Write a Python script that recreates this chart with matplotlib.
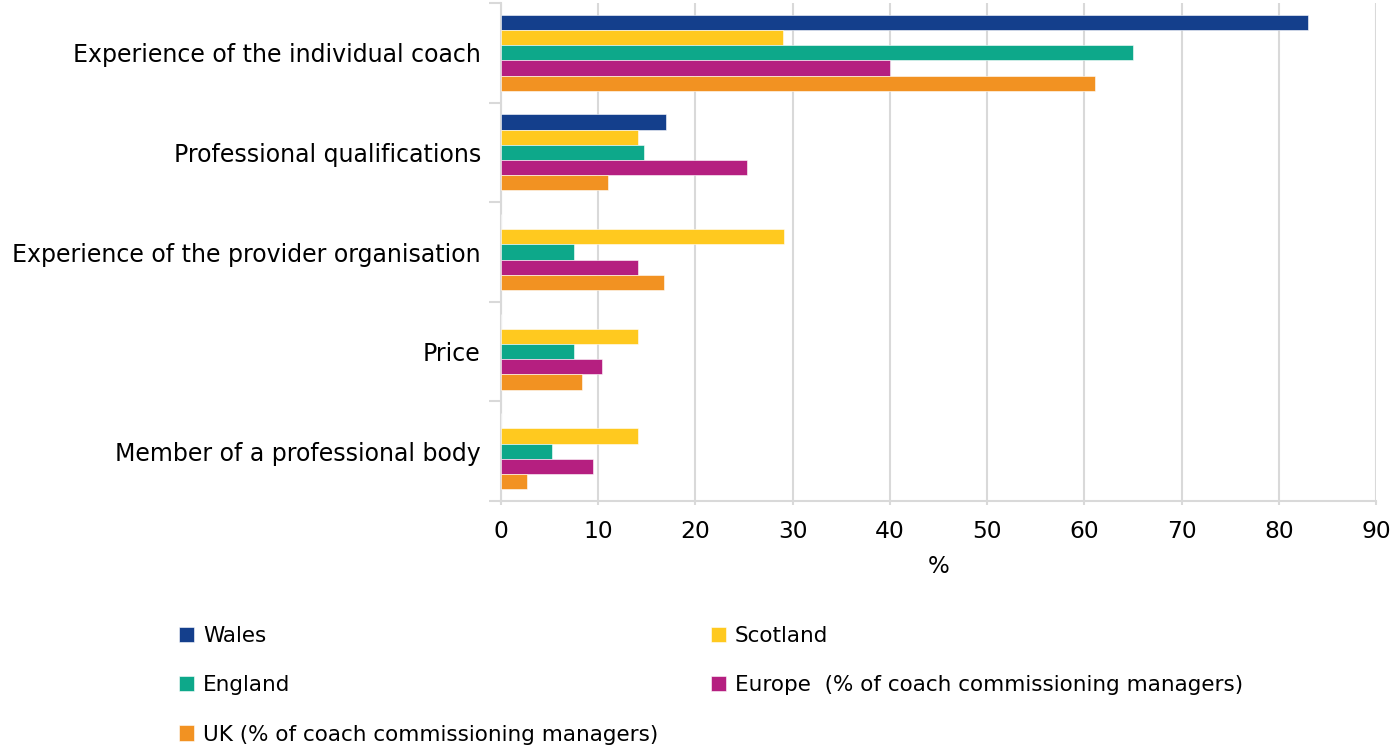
import matplotlib
matplotlib.use("Agg")
import matplotlib.pyplot as plt
import numpy as np

plt.rcParams['font.family'] = ['DejaVu Sans']

categories = ["Experience of the individual coach", "Professional qualifications",
              "Experience of the provider organisation", "Price",
              "Member of a professional body"]
series_names = ["Wales", "Scotland", "England",
                "Europe  (% of coach commissioning managers)",
                "UK (% of coach commissioning managers)"]
wales = [83.0, 17.0, 0.0, 0.0, 0.0]
scotland = [29.0, 14.1, 29.1, 14.1, 14.1]
england = [65.0, 14.7, 7.5, 7.5, 5.2]
europe = [40.0, 25.3, 14.1, 10.4, 9.5]
uk = [61.1, 11.0, 16.8, 8.3, 2.7]
colors = ["#143F8C", "#FFC91F", "#0DA88A", "#B51F80", "#F29222"]
xticks = [0, 10, 20, 30, 40, 50, 60, 70, 80, 90]

fig = plt.figure(figsize=(13.95, 7.49), dpi=100)
ax = fig.add_axes([501/1395, 1 - 501/749, 875/1395, 498/749])

data = [wales, scotland, england, europe, uk]
y = np.arange(len(categories))
h = 0.153
handles = []
for i, (vals, c, name) in enumerate(zip(data, colors, series_names)):
    b = ax.barh(y + (i - 2) * h, vals, height=h, color=c, edgecolor='white',
                linewidth=0.4, label=name, zorder=3)
    handles.append(b)

ax.set_ylim(len(categories) - 0.5, -0.5)
ax.set_xlim(0, 90)
ax.set_xticks(xticks)
ax.set_xticklabels([str(t) for t in xticks])
ax.set_yticks(y)
ax.set_yticklabels(categories)
ax.set_yticks(np.arange(-0.5, len(categories), 1.0), minor=True)
ax.tick_params(axis='y', which='major', length=0, pad=14.5, labelsize=17)
ax.tick_params(axis='y', which='minor', length=9, width=1.5, color='#D9D9D9')
ax.tick_params(axis='x', length=3, width=1.5, color='#D9D9D9', pad=10.5, labelsize=16.8)
ax.grid(axis='x', color='#D9D9D9', linewidth=1.5, zorder=0)
ax.set_axisbelow(True)
for s in ['top', 'right']:
    ax.spines[s].set_visible(False)
for s in ['left', 'bottom']:
    ax.spines[s].set_color('#D9D9D9')
    ax.spines[s].set_linewidth(1.5)
ax.set_xlabel('%', fontsize=16.5, labelpad=9)

leg_kw = dict(frameon=False, fontsize=15.5, handlelength=0.7, handleheight=0.7,
              handletextpad=0.42, labelspacing=1.36, borderpad=0, borderaxespad=0)
l1 = fig.legend([handles[0], handles[2], handles[4]],
                [series_names[0], series_names[2], series_names[4]],
                loc='upper left', bbox_to_anchor=(179/1395, 1 - 626/749), **leg_kw)
l2 = fig.legend([handles[1], handles[3]],
                [series_names[1], series_names[3]],
                loc='upper left', bbox_to_anchor=(711/1395, 1 - 626/749), **leg_kw)

fig.savefig("out.png", dpi=100)
